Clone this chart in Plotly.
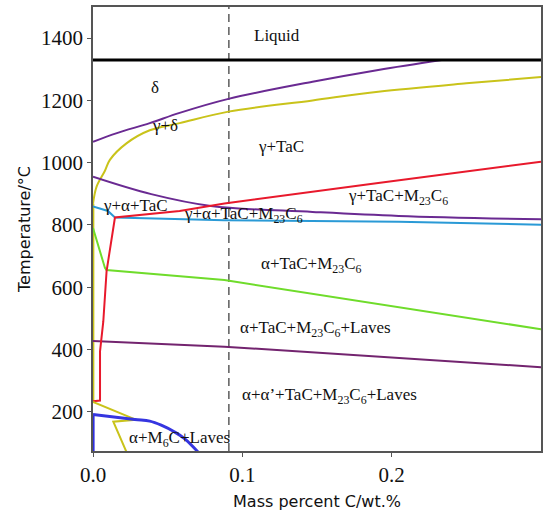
import plotly.graph_objects as go

# ---- data (mass % C, temperature °C) ----
liquid_x = [0.0, 0.3]
liquid_t = [1330, 1330]

delta_x = [0.0, 0.016, 0.038, 0.058, 0.0907, 0.147, 0.191, 0.2335]
delta_t = [1067, 1095, 1127, 1160, 1205, 1260, 1298, 1330]

gd_x = [0.0, 0.0024, 0.008, 0.0113, 0.0224, 0.038, 0.058, 0.0907, 0.147, 0.191, 0.25, 0.3]
gd_t = [868, 923, 974, 1009, 1062, 1104, 1127, 1164, 1200, 1228, 1255, 1275]

gaT_x = [0.0, 0.039, 0.079, 0.147, 0.2047, 0.3]
gaT_t = [955, 899, 861, 842, 829, 818]

red_x = [0.0, 0.0047, 0.0047, 0.0069, 0.0091, 0.0147, 0.058, 0.088, 0.191, 0.3]
red_t = [234, 236, 394, 490, 652, 824, 845, 869, 935, 1003]

blue_x = [0.0, 0.010, 0.0147, 0.088, 0.2047, 0.3]
blue_t = [859, 845, 824, 815, 810, 801]

green_x = [0.0, 0.003, 0.008, 0.009, 0.088, 0.3]
green_t = [790, 740, 662, 655, 623, 465]

laves_x = [0.0, 0.088, 0.3]
laves_t = [427, 409, 343]

m6c_x = [0.0, 0.028, 0.038, 0.0457, 0.0547, 0.0613, 0.0703]
m6c_t = [191, 175, 170, 157, 135, 114, 71]

ylow_x = [0.0, 0.029, 0.0136, 0.0224]
ylow_t = [232, 174, 168, 71]

yaxis_x = [0.0004, 0.0004]
yaxis_t = [868, 232]
baxis_x = [0.0004, 0.0004]
baxis_t = [191, 70]

dash_x = [0.091, 0.091]
dash_t = [74, 1500]

labels = [
    ("Liquid", 0.123, 1407),
    ("δ", 0.0413, 1242),
    ("γ+δ", 0.048, 1121),
    ("γ+TaC", 0.1256, 1051),
    ("γ+TaC+M<sub>23</sub>C<sub>6</sub>", 0.2045, 889),
    ("γ+α+TaC", 0.0282, 864),
    ("γ+α+TaC+M<sub>23</sub>C<sub>6</sub>", 0.1007, 832),
    ("α+TaC+M<sub>23</sub>C<sub>6</sub>", 0.1463, 671),
    ("α+TaC+M<sub>23</sub>C<sub>6</sub>+Laves", 0.1493, 467),
    ("α+α’+TaC+M<sub>23</sub>C<sub>6</sub>+Laves", 0.1586, 250),
    ("α+M<sub>6</sub>C+Laves", 0.058, 112),
]

x_ticks = [0.0, 0.1, 0.2]
y_ticks = [200, 400, 600, 800, 1000, 1200, 1400]

fig = go.Figure()

def add(x, y, color, width=2, shape="linear", dash=None):
    fig.add_trace(go.Scatter(x=x, y=y, mode="lines",
                             line=dict(color=color, width=width, shape=shape, dash=dash),
                             hoverinfo="skip", showlegend=False))

add(yaxis_x, yaxis_t, "#c9c31a", 1.5)
add(baxis_x, baxis_t, "#2f2fe0", 2)
add(dash_x, dash_t, "#333333", 1.2, dash="8px,5px")
add(delta_x, delta_t, "#6a2a92", 2, "spline")
add(gd_x, gd_t, "#c9c31a", 2, "spline")
add(gaT_x, gaT_t, "#6a2a92", 2, "spline")
add(blue_x, blue_t, "#2a9ad6", 2)
add(green_x, green_t, "#6fdc2b", 2)
add(laves_x, laves_t, "#73246f", 2)
add(red_x, red_t, "#e8192c", 2)
add(ylow_x, ylow_t, "#c9c31a", 2)
add(m6c_x, m6c_t, "#3535e0", 3, "spline")
add(liquid_x, liquid_t, "#000000", 3)

for txt, x, y in labels:
    fig.add_annotation(x=x, y=y, text=txt, showarrow=False,
                       font=dict(family="Liberation Serif", size=17, color="#111111"))

fig.update_layout(
    width=544, height=514,
    margin=dict(l=93, r=1, t=7, b=63),
    plot_bgcolor="white", paper_bgcolor="white",
    showlegend=False,
)
fig.update_xaxes(range=[0, 0.3], tickvals=x_ticks, ticktext=[f"{v:.1f}" for v in x_ticks],
                 showgrid=False, zeroline=False, showline=True, mirror=True,
                 linecolor="#555555", linewidth=1.5, ticks="outside", ticklen=4,
                 tickcolor="#555555",
                 tickfont=dict(family="Liberation Serif", size=21, color="#111111"),
                 title=dict(text="Mass percent C/wt.%", standoff=10,
                            font=dict(family="DejaVu Sans", size=16, color="#111111")))
fig.update_yaxes(range=[74, 1500], tickvals=y_ticks,
                 showgrid=False, zeroline=False, showline=True, mirror=True,
                 linecolor="#555555", linewidth=1.5, ticks="outside", ticklen=4,
                 tickcolor="#555555",
                 tickfont=dict(family="Liberation Serif", size=21, color="#111111"),
                 title=dict(text="Temperature/°C", standoff=6,
                            font=dict(family="DejaVu Sans", size=16, color="#111111")))

fig.write_html("out.html")
